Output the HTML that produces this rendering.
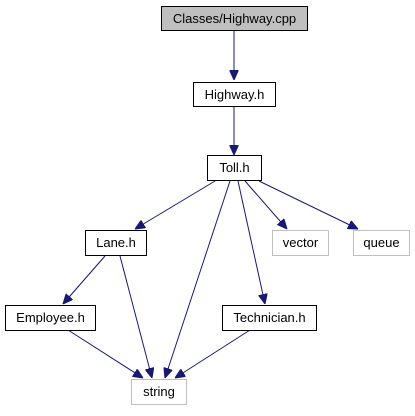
<!DOCTYPE html>
<html><head><style>html,body{margin:0;padding:0;background:#fff}</style></head>
<body>
<svg width="415" height="411" viewBox="0 0 415 411" xmlns="http://www.w3.org/2000/svg" font-family="Liberation Sans, sans-serif" font-size="13">
<defs>
<marker id="a" markerWidth="10" markerHeight="9" refX="10" refY="4.5" orient="auto" markerUnits="userSpaceOnUse">
<path d="M0,0 L10,4.5 L0,9 Z" fill="#191970" stroke="#191970"/>
</marker>
</defs>
<g stroke="#191970" stroke-width="1" fill="none" marker-end="url(#a)">
<line x1="234" y1="31" x2="234" y2="80"/>
<line x1="234" y1="107" x2="234" y2="155"/>
<line x1="215" y1="181" x2="135" y2="229"/>
<line x1="230" y1="181" x2="165" y2="378"/>
<line x1="238" y1="181" x2="265" y2="304"/>
<line x1="245" y1="181" x2="287" y2="229"/>
<line x1="259" y1="181" x2="358" y2="229"/>
<line x1="105" y1="256" x2="63" y2="304"/>
<line x1="120" y1="256" x2="152" y2="378"/>
<line x1="68" y1="330" x2="143" y2="378"/>
<line x1="250" y1="330" x2="175" y2="378"/>
</g>
<g stroke-width="1">
<rect x="161.5" y="6.5" width="146" height="24" fill="#bfbfbf" stroke="#000"/>
<rect x="193.5" y="82.5" width="82" height="24" fill="#fff" stroke="#000"/>
<rect x="207.5" y="155.5" width="54" height="25" fill="#fff" stroke="#000"/>
<rect x="85.5" y="230.5" width="61" height="25" fill="#fff" stroke="#000"/>
<rect x="272.5" y="230.5" width="56" height="25" fill="#fff" stroke="#bfbfbf"/>
<rect x="353.5" y="230.5" width="56" height="25" fill="#fff" stroke="#bfbfbf"/>
<rect x="5.5" y="305.5" width="90" height="25" fill="#fff" stroke="#000"/>
<rect x="222.5" y="305.5" width="94" height="25" fill="#fff" stroke="#000"/>
<rect x="131.5" y="379.5" width="55" height="25" fill="#fff" stroke="#bfbfbf"/>
</g>
<g fill="#000" text-anchor="middle">
<text x="234.5" y="23">Classes/Highway.cpp</text>
<text x="234.5" y="99">Highway.h</text>
<text x="234.5" y="172">Toll.h</text>
<text x="116" y="247">Lane.h</text>
<text x="300.5" y="247">vector</text>
<text x="381.5" y="247">queue</text>
<text x="50.5" y="322">Employee.h</text>
<text x="269.5" y="322">Technician.h</text>
<text x="159" y="396">string</text>
</g>
</svg>
</body></html>
